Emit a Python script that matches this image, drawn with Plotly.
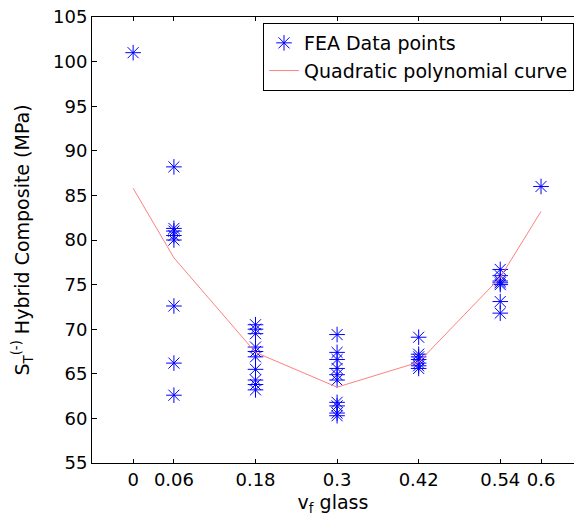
import plotly.graph_objects as go

# FEA results: strength for each glass fibre volume fraction
x_0 = [0.0]
y_0 = [101.0]
x_006 = [0.06] * 8
y_006 = [88.2, 81.3, 81.0, 80.5, 80.0, 72.6, 66.2, 62.6]
x_018 = [0.18] * 10
y_018 = [70.5, 70.0, 69.5, 68.0, 67.5, 66.9, 65.5, 64.3, 63.8, 63.2]
x_030 = [0.3] * 10
y_030 = [69.4, 67.4, 66.6, 65.6, 64.9, 64.3, 61.8, 61.4, 60.6, 60.3]
x_042 = [0.42] * 7
y_042 = [69.1, 67.2, 66.9, 66.6, 66.2, 65.9, 65.6]
x_054 = [0.54] * 7
y_054 = [76.7, 76.0, 75.4, 75.2, 75.0, 73.1, 71.8]
x_060 = [0.6]
y_060 = [86.0]

# Quadratic fit evaluated at the sampled fractions
fit_x = [0.0, 0.06, 0.18, 0.3, 0.42, 0.54, 0.6]
fit_y = [85.8, 78.0, 67.4, 63.5, 66.3, 75.8, 83.2]

tick_vals = [0, 0.06, 0.18, 0.3, 0.42, 0.54, 0.6]
tick_text = ["0", "0.06", "0.18", "0.3", "0.42", "0.54", "0.6"]

pts_x = x_0 + x_006 + x_018 + x_030 + x_042 + x_054 + x_060
pts_y = y_0 + y_006 + y_018 + y_030 + y_042 + y_054 + y_060

FONT = "DejaVu Sans, Arial, sans-serif"

fig = go.Figure()
fig.add_trace(go.Scatter(
    x=pts_x, y=pts_y, mode="markers", name="FEA Data points",
    legendgroup="a",
    marker=dict(symbol="asterisk-open", size=13, color="#0000ff",
                line=dict(color="#0000ff", width=1)),
))
fig.add_trace(go.Scatter(
    x=fit_x, y=fit_y, mode="lines", name="Quadratic polynomial curve",
    legendgroup="b",
    line=dict(color="#ff8080", width=1),
))

fig.update_layout(
    width=574, height=519,
    margin=dict(l=92, r=0, t=17, b=56),
    paper_bgcolor="white", plot_bgcolor="white",
    font=dict(family=FONT, size=18, color="black"),
    showlegend=True,
    legend=dict(
        x=(263 - 92) / (574 - 92), y=1 - (23 - 17) / (463 - 17),
        xanchor="left", yanchor="top",
        bgcolor="white", bordercolor="black", borderwidth=1,
        font=dict(family=FONT, size=19, color="black"),
        tracegroupgap=0, traceorder="grouped",
    ),
    xaxis=dict(
        range=[-0.0605, 0.6485],
        tickmode="array", tickvals=tick_vals, ticktext=tick_text,
        ticks="inside", ticklen=4, tickcolor="black",
        showline=True, linecolor="black", linewidth=1, mirror="ticks",
        showgrid=False, zeroline=False,
        title=dict(text="v<sub>f</sub> glass", standoff=7,
                   font=dict(family=FONT, size=19)),
    ),
    yaxis=dict(
        range=[55, 105], dtick=5, tick0=55,
        ticks="inside", ticklen=5, tickcolor="black",
        showline=True, linecolor="black", linewidth=1,
        showgrid=False, zeroline=False,
        title=dict(text="S<sub>T</sub><sup>(-)</sup> Hybrid Composite (MPa)",
                   standoff=18, font=dict(family=FONT, size=19)),
    ),
)

fig.write_html("out.html")
